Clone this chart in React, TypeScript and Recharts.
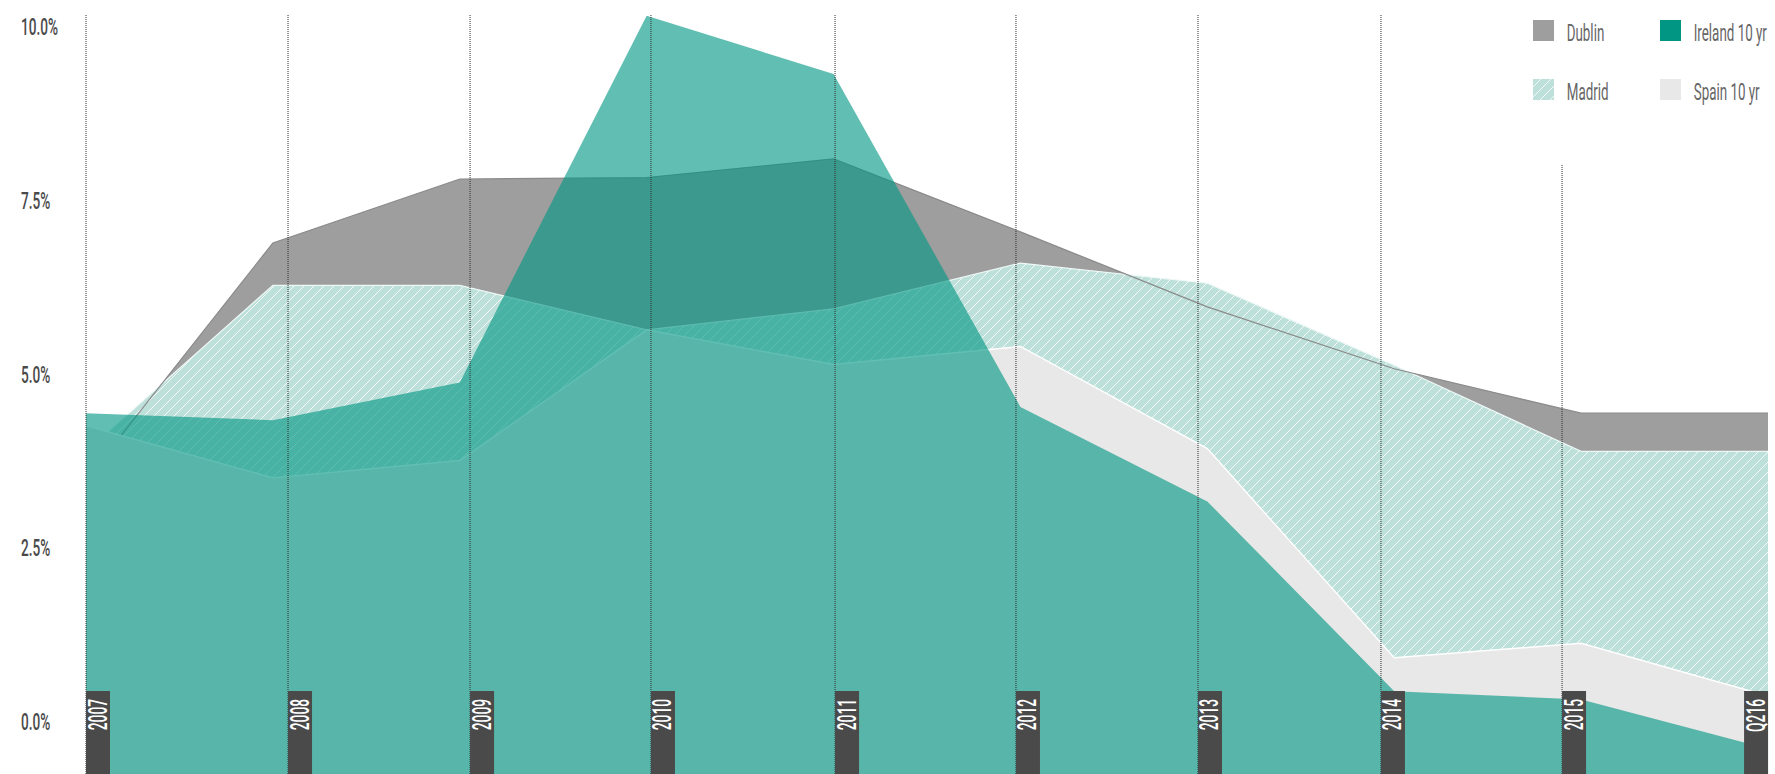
import React from 'react';
import { AreaChart, Area, XAxis, YAxis, ReferenceLine } from 'recharts';

// ---- data (percent) ----
const categories = ['2007', '2008', '2009', '2010', '2011', '2012', '2013', '2014', '2015', 'Q216'];
const dublin = [3.48, 6.89, 7.81, 7.83, 8.1, 7.05, 5.97, 5.08, 4.44, 4.44];
const madrid = [3.89, 6.28, 6.28, 5.64, 5.94, 6.6, 6.31, 5.13, 3.89, 3.89];
const ireland10yr = [4.44, 4.34, 4.88, 10.16, 9.32, 4.53, 3.17, 0.44, 0.32, -0.39];
const spain10yr = [4.26, 3.51, 3.76, 5.64, 5.14, 5.4, 3.93, 0.92, 1.13, 0.37];
const yTicks = [0, 2.5, 5, 7.5, 10];
// where each year marker sits along the category axis (category index units)
const markerSlots = [0, 1.081, 2.055, 3.023, 4.008, 4.976, 5.95, 6.929, 7.898, 8.872];
const seriesNames = ['Dublin', 'Ireland 10 yr', 'Madrid', 'Spain 10 yr'];

const rows = categories.map((c, i) => ({
  i,
  cat: c,
  dublin: dublin[i],
  madrid: madrid[i],
  ireland: ireland10yr[i],
  spain: spain10yr[i],
}));

const FONT = 'Roboto, "Liberation Sans", sans-serif';
const C_DUBLIN = '#9e9e9e';
const C_IRELAND = '#009683';
const C_MADRID = '#bde0da';
const C_SPAIN = '#e8e8e8';

const YTick = (props: any) => {
  const { y, payload } = props;
  return (
    <text
      x={0}
      y={0}
      dy="0.355em"
      transform={`translate(21, ${y}) scale(0.58, 1)`}
      fill="#4a4a4a"
      fontSize={23.5}
      fontWeight={500}
      fontFamily={FONT}
      textAnchor="start"
    >
      {Number(payload.value).toFixed(1)}%
    </text>
  );
};

const makeMarker = (text: string) => (props: any) => {
  const vb = props.viewBox || {};
  const x = vb.x;
  const bottom = Math.max(vb.y, vb.y + vb.height);
  return (
    <g>
      <rect x={x} y={bottom - 83} width={24} height={83} fill="#4a4a4a" />
      <text
        x={0}
        y={0}
        transform={`translate(${x + 20.5}, ${bottom - 75}) rotate(-90) scale(0.55, 1)`}
        textAnchor="end"
        fill="#ffffff"
        fontSize={25}
        fontWeight={500}
        fontFamily={FONT}
      >
        {text}
      </text>
    </g>
  );
};

const HatchDefs = ({ id }: { id: string }) => (
  <defs>
    <pattern id={id} patternUnits="userSpaceOnUse" width={10} height={10}>
      <rect x={0} y={0} width={10} height={10} fill={C_MADRID} />
      <path
        d="M0,10 L10,0 M-2,2 L2,-2 M8,12 L12,8"
        stroke="#ffffff"
        strokeOpacity={0.85}
        strokeWidth={1}
      />
    </pattern>
  </defs>
);

const Legend2 = () => {
  const swatch = [C_DUBLIN, C_IRELAND, 'url(#hatchLegend)', C_SPAIN];
  const pos = [
    [33, 20],
    [160, 20],
    [33, 79],
    [160, 79],
  ];
  return (
    <svg
      width={275}
      height={164}
      style={{ position: 'absolute', left: 1500, top: 0, background: '#ffffff' }}
    >
      <HatchDefs id="hatchLegend" />
      {seriesNames.map((n, k) => (
        <g key={n}>
          <rect x={pos[k][0]} y={pos[k][1]} width={21} height={21} fill={swatch[k]} />
          <text
            x={0}
            y={0}
            transform={`translate(${pos[k][0] + 33.7}, ${pos[k][1] + 20.7}) scale(0.57, 1)`}
            fill="#666666"
            fontSize={23.5}
            fontWeight={400}
            fontFamily={FONT}
          >
            {n}
          </text>
        </g>
      ))}
    </svg>
  );
};

export default function App() {
  return (
    <div style={{ position: 'absolute', left: 0, top: 0, width: 1775, height: 774, background: '#fff' }}>
      <AreaChart
        width={1775}
        height={774}
        data={rows}
        margin={{ top: 15, right: 7, bottom: 0, left: 0 }}
      >
        <HatchDefs id="hatchMadrid" />
        <XAxis dataKey="i" type="number" domain={[0, 9]} hide />
        <YAxis
          type="number"
          domain={[-0.752, 10.17]}
          ticks={yTicks}
          width={86}
          axisLine={false}
          tickLine={false}
          tick={<YTick />}
          allowDataOverflow
        />
        <Area
          dataKey="dublin"
          type="linear"
          baseValue="dataMin"
          fill={C_DUBLIN}
          fillOpacity={1}
          stroke="none"
          dot={false}
          activeDot={false}
          isAnimationActive={false}
        />
        <Area
          dataKey="madrid"
          type="linear"
          baseValue="dataMin"
          fill="url(#hatchMadrid)"
          fillOpacity={1}
          stroke="#eef8f6"
          strokeWidth={1.2}
          dot={false}
          activeDot={false}
          isAnimationActive={false}
        />
        <Area
          dataKey="dublin"
          type="linear"
          baseValue="dataMin"
          fill="none"
          fillOpacity={0}
          stroke="#8a8a8a"
          strokeWidth={1.2}
          dot={false}
          activeDot={false}
          isAnimationActive={false}
        />
        <Area
          dataKey="spain"
          type="linear"
          baseValue="dataMin"
          fill={C_SPAIN}
          fillOpacity={1}
          stroke="#ffffff"
          strokeWidth={1.4}
          dot={false}
          activeDot={false}
          isAnimationActive={false}
        />
        <Area
          dataKey="ireland"
          type="linear"
          baseValue="dataMin"
          fill={C_IRELAND}
          fillOpacity={0.62}
          stroke="none"
          dot={false}
          activeDot={false}
          isAnimationActive={false}
        />
        {categories.map((c, k) => (
          <ReferenceLine
            key={c}
            x={markerSlots[k]}
            stroke={k === categories.length - 1 ? 'none' : '#2e2e2e'}
            strokeDasharray="1 1"
            strokeWidth={1}
            label={makeMarker(c)}
          />
        ))}
      </AreaChart>
      <Legend2 />
    </div>
  );
}
